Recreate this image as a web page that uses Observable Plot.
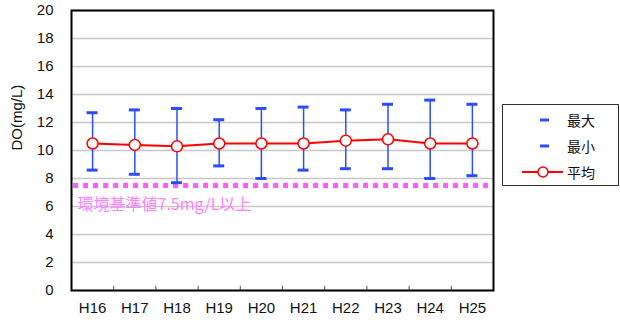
<!DOCTYPE html>
<html>
<head>
<meta charset="utf-8">
<script src="https://cdn.jsdelivr.net/npm/d3@7"></script>
<script src="https://cdn.jsdelivr.net/npm/@observablehq/plot@0.6"></script>
<style>
  body { margin: 0; background: #fff; }
  #wrap { position: relative; width: 620px; height: 322px;
          font-family: "Liberation Sans", Arial, "Noto Sans CJK JP", sans-serif; }
  .legend { position: absolute; left: 502px; top: 104px; width: 117px; height: 82px;
            border: 1px solid #333; background: #fff; box-sizing: border-box; }
  .legend .row { position: absolute; left: 0; height: 20px; display: flex; align-items: center; }
  .legend .row span { font-family: "Noto Sans CJK JP", sans-serif; font-size: 14px; color: #111; margin-left: 4px; }
</style>
</head>
<body>
<div id="wrap"></div>
<script>
// Dissolved oxygen by fiscal year (Heisei), mg/L
const years = ["H16", "H17", "H18", "H19", "H20", "H21", "H22", "H23", "H24", "H25"];
const maxDO = [12.7, 12.9, 13.0, 12.2, 13.0, 13.1, 12.9, 13.3, 13.6, 13.3];
const minDO = [8.6, 8.3, 7.7, 8.9, 8.0, 8.6, 8.7, 8.7, 8.0, 8.2];
const meanDO = [10.5, 10.4, 10.3, 10.5, 10.5, 10.5, 10.7, 10.8, 10.5, 10.5];
const yTicks = [0, 2, 4, 6, 8, 10, 12, 14, 16, 18, 20];
const standard = 7.5;
const standardLabel = "環境基準値7.5mg/L以上";
const legendNames = ["最大", "最小", "平均"];

const blue = "#2b4cff";
const rows = years.map((year, i) => ({year, x: i + 0.5, max: maxDO[i], min: minDO[i], mean: meanDO[i]}));
const capHalf = 0.13;

const chart = Plot.plot({
  width: 620,
  height: 322,
  marginLeft: 71,
  marginRight: 127,
  marginTop: 10,
  marginBottom: 32,
  style: {fontFamily: "'Liberation Sans', Arial, sans-serif", fontSize: "15px", color: "#111", background: "#fff"},
  x: {domain: [0, years.length]},
  y: {domain: [0, 20]},
  marks: [
    Plot.gridY(yTicks, {stroke: "#c8c8c8", strokeOpacity: 1, strokeWidth: 1.5}),
    // environmental standard
    Plot.ruleY([standard], {stroke: "#ff5cff", strokeWidth: 5, strokeDasharray: "5,5", x1: 0.05, x2: years.length}),
    Plot.text([standardLabel], {x: 0, y: standard, text: d => d, textAnchor: "start", dx: 6, dy: 19,
      fill: "#ff80ff", fontSize: 16, fontFamily: "'Noto Sans CJK JP', sans-serif"}),
    // min–max range
    Plot.ruleX(rows, {x: "x", y1: "min", y2: "max", stroke: blue, strokeWidth: 1.5}),
    Plot.ruleY(rows, {y: "max", x1: d => d.x - capHalf, x2: d => d.x + capHalf, stroke: blue, strokeWidth: 3}),
    Plot.ruleY(rows, {y: "min", x1: d => d.x - capHalf, x2: d => d.x + capHalf, stroke: blue, strokeWidth: 3}),
    // mean
    Plot.line(rows, {x: "x", y: "mean", stroke: "#ff0000", strokeWidth: 2}),
    Plot.dot(rows, {x: "x", y: "mean", r: 5.5, fill: "white", stroke: "#ff0000", strokeWidth: 1.5}),
    // category boundary ticks
    Plot.ruleX(d3.range(1, years.length), {y1: 0, y2: 0.3, stroke: "#555", strokeWidth: 1}),
    Plot.axisY({ticks: yTicks, tickSize: 0, tickPadding: 18, label: null, fontSize: 15}),
    Plot.axisX({ticks: rows.map(d => d.x), tickFormat: v => years[Math.round(v - 0.5)], tickSize: 0, tickPadding: 12, label: null, fontSize: 15}),
    Plot.text(["DO(mg/L)"], {frameAnchor: "left", text: d => d, rotate: -90, dx: -54, fontSize: 15,
      fontFamily: "'Liberation Sans', Arial, sans-serif"}),
    Plot.frame({stroke: "#000", strokeWidth: 2})
  ]
});

const wrap = document.getElementById("wrap");
wrap.appendChild(chart);

// legend
const legend = document.createElement("div");
legend.className = "legend";
const symbols = [
  `<svg width="60" height="20"><line x1="37" x2="46" y1="10" y2="10" stroke="${blue}" stroke-width="3"/></svg>`,
  `<svg width="60" height="20"><line x1="37" x2="46" y1="10" y2="10" stroke="${blue}" stroke-width="3"/></svg>`,
  `<svg width="60" height="20"><line x1="19" x2="61" y1="10" y2="10" stroke="#ff0000" stroke-width="2"/><circle cx="40" cy="10" r="5" fill="white" stroke="#ff0000" stroke-width="1.5"/></svg>`
];
legendNames.forEach((name, i) => {
  const row = document.createElement("div");
  row.className = "row";
  row.style.top = (5 + i * 26) + "px";
  row.innerHTML = symbols[i] + `<span>${name}</span>`;
  legend.appendChild(row);
});
wrap.appendChild(legend);
</script>
</body>
</html>
